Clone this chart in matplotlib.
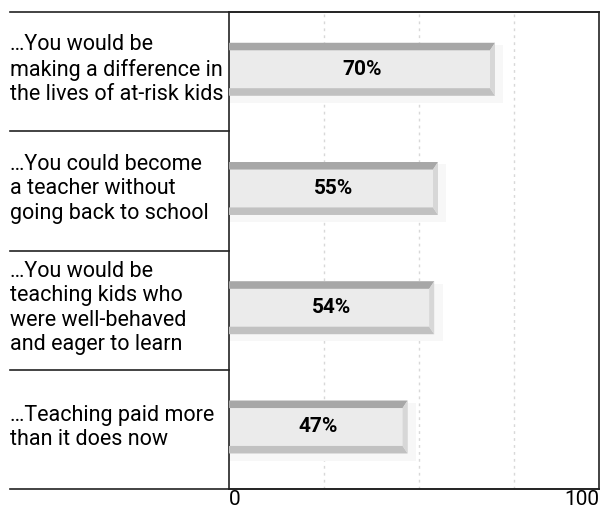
import matplotlib
matplotlib.use("Agg")
import matplotlib.pyplot as plt
from matplotlib.patches import Polygon, Rectangle

plt.rcParams['font.family'] = ['Roboto', 'DejaVu Sans']

# data
categorias = [
    "\u2026You would be\nmaking a difference in\nthe lives of at-risk kids",
    "\u2026You could become\na teacher without\ngoing back to school",
    "\u2026You would be\nteaching kids who\nwere well-behaved\nand eager to learn",
    "\u2026Teaching paid more\nthan it does now",
]
valores = [70, 55, 54, 47]
rotulos = ["70%", "55%", "54%", "47%"]
grade = [25, 50, 75]

fig = plt.figure(figsize=(6.12, 5.08), dpi=100)
W, H = 612, 508
x0, x1, ytop, ybot = 229, 599, 12, 489
ax = fig.add_axes([x0 / W, 1 - ybot / H, (x1 - x0) / W, (ybot - ytop) / H])

px_unidade = 380 / 100          # pixels por ponto percentual
xmax = (x1 - x0) / px_unidade
n = len(categorias)
ax.set_xlim(0, xmax)
ax.set_ylim(n, 0)

# grade pontilhada
for g in grade:
    ax.axvline(g, color="#d8d8d8", lw=1, ls=(0, (2, 3)), zorder=0)

h = 0.222          # meia altura da barra
bx = 5 / px_unidade
by = 7.5 / 119
for i, v in enumerate(valores):
    c = i + 0.5 - 0.02
    topo, base = c - h, c + h
    # sombra
    ax.add_patch(Rectangle((0, topo + 0.02), v + 2.2, 2 * h + 0.04,
                           color="#f7f7f7", lw=0, zorder=1))
    ax.barh(c, v, height=2 * h, color="#ebebeb", lw=0, zorder=2)
    ax.add_patch(Polygon([(0, topo), (v, topo), (v - bx, topo + by), (0, topo + by)],
                         color="#a7a7a7", lw=0, zorder=3))
    ax.add_patch(Polygon([(0, base), (v, base), (v - bx, base - by), (0, base - by)],
                         color="#c1c1c1", lw=0, zorder=3))
    ax.add_patch(Polygon([(v, topo), (v, base), (v - bx, base - by), (v - bx, topo + by)],
                         color="#d7d7d7", lw=0, zorder=3))
    ax.text(v / 2, c, rotulos[i], ha="center", va="center", fontsize=15,
            fontweight="bold", zorder=4)
    # categoria
    ax.annotate(categorias[i], xy=(-(x0 - 10) / (x1 - x0), i + 0.5),
                xycoords=("axes fraction", "data"), xytext=(0, 1.5),
                textcoords="offset points", ha="left", va="center",
                fontsize=15.5, linespacing=1.22)

# separadores
for i in range(1, n):
    ax.axhline(i, xmin=-(x0 - 10) / (x1 - x0), xmax=0, color="#222222",
               lw=1.2, clip_on=False)
for y in (0, n):
    ax.axhline(y, xmin=-(x0 - 10) / (x1 - x0), xmax=1, color="#222222",
               lw=1.2, clip_on=False)

for s in ax.spines.values():
    s.set_color("#222222")
    s.set_linewidth(1.2)

ax.set_yticks([])
ax.set_xticks([0, xmax])
ax.set_xticklabels(["0", "100"], fontsize=15)
ax.get_xticklabels()[0].set_ha("left")
ax.get_xticklabels()[1].set_ha("right")
ax.tick_params(axis="x", length=0, pad=1)

fig.savefig("out.png", dpi=100)
